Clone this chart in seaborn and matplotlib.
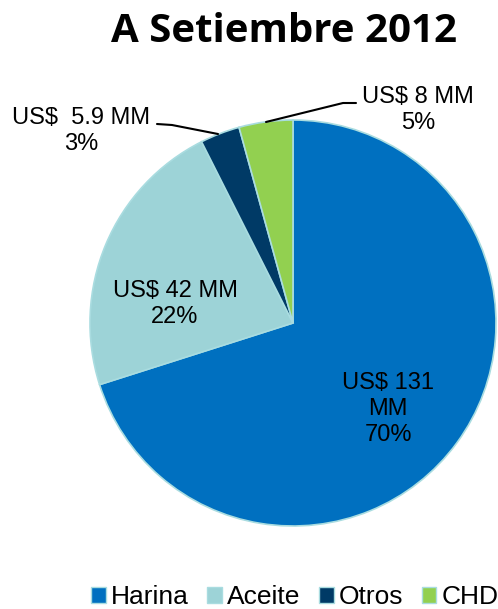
import matplotlib
matplotlib.use("Agg")
import matplotlib.pyplot as plt
import seaborn as sns
from matplotlib.patches import Patch

sns.set_style("white")
plt.rcParams['font.family'] = ['Liberation Sans', 'DejaVu Sans']
plt.rcParams['text.color'] = 'black'

categories = ["Harina", "Aceite", "Otros", "CHD"]
values = [131, 42, 5.9, 8]
value_labels = ["US$ 131\nMM\n70%", "US$ 42 MM\n22%", "US$  5.9 MM\n3%", "US$ 8 MM\n5%"]
colors = ["#0070C0", "#9DD3D7", "#003A66", "#92D050"]
title = "A Setiembre 2012"

W, H = 498, 609
fig = plt.figure(figsize=(W / 100, H / 100), dpi=100)
cx, cy, r = 293, 323, 203
ax = fig.add_axes([(cx - r) / W, (H - cy - r) / H, 2 * r / W, 2 * r / H])

wedges, _ = ax.pie(values, colors=colors, startangle=90, counterclock=False,
                   wedgeprops=dict(edgecolor="#A9DCE0", linewidth=1.2))
ax.set_xlim(-1, 1)
ax.set_ylim(-1, 1)
ax.set_aspect("equal")
ax.axis("off")

def d(px, py):
    return ((px - cx) / r, (cy - py) / r)

fs = 17
ls = 1.25
ax.text(*d(388, 409), value_labels[0], ha="center", va="center", fontsize=fs, linespacing=ls)
ax.text(*d(175, 304), value_labels[1], ha="center", va="center", fontsize=fs, linespacing=ls)
ax.text(*d(81, 131), value_labels[2], ha="center", va="center", fontsize=fs, linespacing=ls, clip_on=False)
ax.text(*d(418, 110), value_labels[3], ha="center", va="center", fontsize=fs, linespacing=ls, clip_on=False)

# leader lines
p = [d(157, 124), d(172, 125), d(218, 134)]
ax.plot([q[0] for q in p], [q[1] for q in p], color="black", lw=1.5, clip_on=False)
p = [d(266, 122), d(343, 103), d(356, 103)]
ax.plot([q[0] for q in p], [q[1] for q in p], color="black", lw=1.5, clip_on=False)

fig.text(284 / W, 1 - 32 / H, title, ha="center", va="center", fontsize=29,
         fontweight="bold", family=["Open Sans", "DejaVu Sans"])

handles = [Patch(facecolor=c, edgecolor="#A9DCE0", linewidth=1) for c in colors]
fig.legend(handles, categories, loc="center", bbox_to_anchor=(295 / W, 1 - 597 / H),
           ncol=4, frameon=False, fontsize=19, handlelength=0.55, handleheight=0.55,
           handletextpad=0.2, columnspacing=0.7)

fig.savefig("out.png", dpi=100)
